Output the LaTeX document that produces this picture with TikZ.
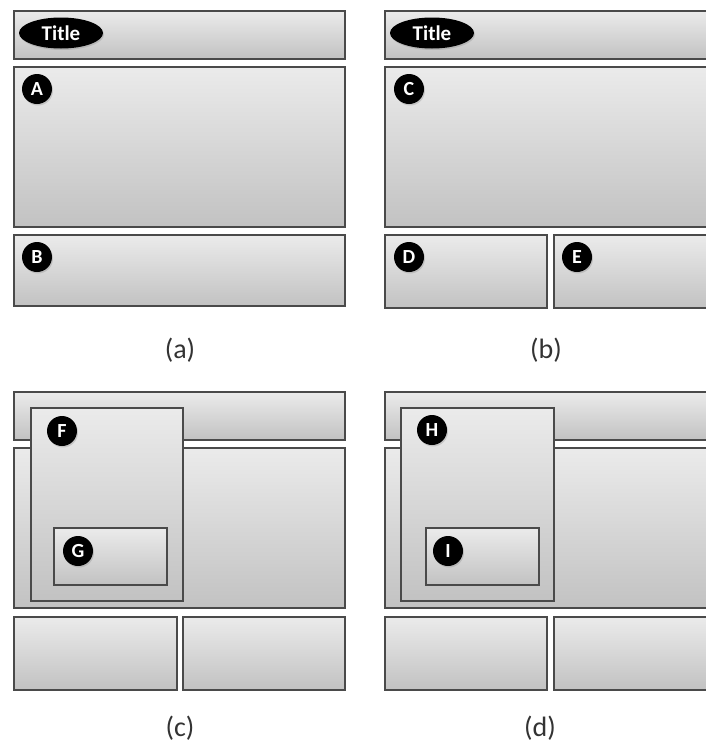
\documentclass[tikz,border=0pt]{standalone}
\usepackage{fontspec}
\setmainfont{Carlito}
\usetikzlibrary{shapes.geometric,shadows}
\definecolor{boxtop}{HTML}{EBEBEB}
\definecolor{boxbot}{HTML}{C2C2C2}
\definecolor{boxline}{HTML}{4A4A4A}
\definecolor{captxt}{HTML}{333333}
\tikzset{
  panelbox/.style={rectangle, anchor=north west, inner sep=0pt, draw=boxline, line width=1.8pt,
    top color=boxtop, bottom color=boxbot,
    drop shadow={shadow xshift=1pt, shadow yshift=-1.5pt, opacity=0.25}},
  badge/.style={circle, fill=black, minimum size=30pt, inner sep=0pt, text=white,
    font=\bfseries\fontsize{20}{20}\selectfont,
    drop shadow={shadow xshift=1pt, shadow yshift=-1.5pt, opacity=0.3}},
  titlebadge/.style={ellipse, fill=black, minimum width=84pt, minimum height=31pt, inner sep=0pt,
    text=white, font=\bfseries\fontsize{21}{21}\selectfont,
    drop shadow={shadow xshift=1pt, shadow yshift=-1.5pt, opacity=0.3}},
  caption/.style={text=captxt, font=\fontsize{28}{28}\selectfont}
}
\begin{document}
\begin{tikzpicture}[x=1pt,y=-1pt]
\useasboundingbox (0,0) rectangle (705,745);
\fill[white] (0,0) rectangle (705,745);
% panel (a)
\node[panelbox, minimum width=331pt, minimum height=48pt] (aTitle) at (13,10) {};
\node[panelbox, minimum width=331pt, minimum height=160pt] (aMain) at (13,66) {};
\node[panelbox, minimum width=331pt, minimum height=71pt] (aBot) at (13,234) {};
\node[titlebadge] (aT) at (61,33) {Title};
\node[badge] (A) at (37,89) {A};
\node[badge] (B) at (37,257) {B};
\node[caption] (capa) at (180,350) {(a)};
% panel (b)
\node[panelbox, minimum width=340pt, minimum height=48pt] (bTitle) at (384,10) {};
\node[panelbox, minimum width=340pt, minimum height=160pt] (bMain) at (384,66) {};
\node[panelbox, minimum width=162pt, minimum height=73pt] (bBotL) at (384,234) {};
\node[panelbox, minimum width=160pt, minimum height=73pt] (bBotR) at (553,234) {};
\node[titlebadge] (bT) at (432,33) {Title};
\node[badge] (C) at (409,89) {C};
\node[badge] (D) at (409,257) {D};
\node[badge] (E) at (577,257) {E};
\node[caption] (capb) at (546,350) {(b)};
% panel (c)
\node[panelbox, minimum width=331pt, minimum height=48pt] (cTitle) at (13,391) {};
\node[panelbox, minimum width=331pt, minimum height=160pt] (cMain) at (13,447) {};
\node[panelbox, minimum width=163pt, minimum height=73pt] (cBotL) at (13,616) {};
\node[panelbox, minimum width=162pt, minimum height=73pt] (cBotR) at (182,616) {};
\node[panelbox, minimum width=152pt, minimum height=193pt] (cF) at (30,407) {};
\node[panelbox, minimum width=113pt, minimum height=57pt] (cG) at (53,527) {};
\node[badge] (F) at (62,431) {F};
\node[badge] (G) at (78,551) {G};
\node[caption] (capc) at (180,728) {(c)};
% panel (d)
\node[panelbox, minimum width=340pt, minimum height=48pt] (dTitle) at (384,391) {};
\node[panelbox, minimum width=340pt, minimum height=160pt] (dMain) at (384,447) {};
\node[panelbox, minimum width=162pt, minimum height=73pt] (dBotL) at (384,616) {};
\node[panelbox, minimum width=160pt, minimum height=73pt] (dBotR) at (553,616) {};
\node[panelbox, minimum width=153pt, minimum height=193pt] (dH) at (400,407) {};
\node[panelbox, minimum width=113pt, minimum height=57pt] (dI) at (425,527) {};
\node[badge] (H) at (432,430) {H};
\node[badge] (I) at (448,551) {I};
\node[caption] (capd) at (540,728) {(d)};
\end{tikzpicture}
\end{document}
